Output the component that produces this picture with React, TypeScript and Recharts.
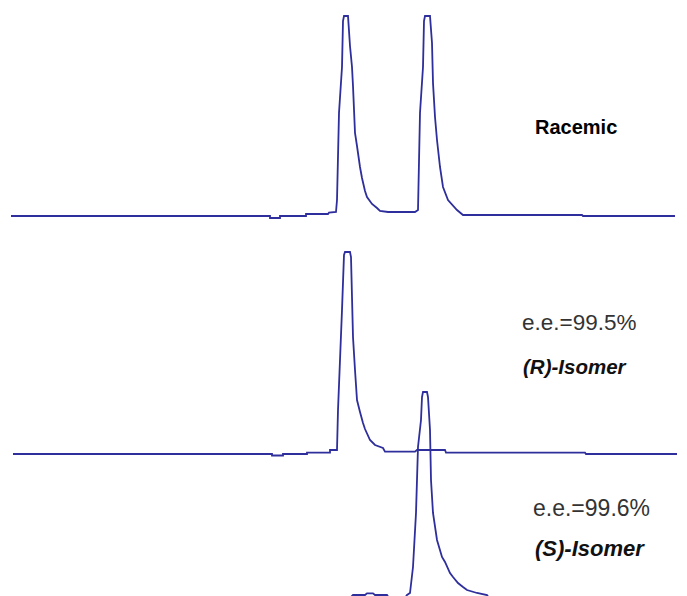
import React from "react";
import { LineChart, Line, XAxis, YAxis } from "recharts";

// Retention time (s) and detector signal (mV)
const RACEMIC: [number, number][] = [
  [0, 0], [259, 0], [259, -2], [269, -2], [269, 0], [295, 0], [295, 2], [317, 2], [318, 3.5], [325, 4],
  [326, 16], [328, 103], [331, 149], [332, 195], [333, 200], [337, 200], [339, 170], [341, 149], [342, 130],
  [344, 83], [346, 70], [349, 49], [351, 38], [354, 25], [356, 19], [361, 12], [366, 8], [369, 5], [377, 4],
  [404, 4], [407, 6], [409, 103], [412, 149], [413, 195], [414, 200], [419, 200], [421, 173], [422, 133],
  [424, 99], [426, 76], [429, 49], [432, 29], [437, 16], [446, 6], [452, 1], [571, 1], [572, 0], [664, 0],
];

const R_ISOMER: [number, number][] = [
  [2, 0], [261, 0], [261, -1.5], [272, -1.5], [272, 0], [296, 0], [296, 1.3], [319, 1.3], [319, 4], [326, 4],
  [327, 44], [331, 144], [333, 199], [334, 202], [339, 202], [340, 197], [341, 157], [342, 117], [344, 84],
  [346, 54], [349, 42], [352, 31], [354, 25], [359, 14], [364, 9], [372, 6], [374, 2.3], [404, 2.3], [406, 4],
  [434, 4], [435, 1.3], [574, 1.3], [575, 0], [666, 0],
];

const S_ISOMER: [number, number][] = [
  [2, 0], [339, 0], [342, 3], [354, 3], [356, 4.7], [362, 4.7], [364, 3], [376, 3], [378, 0], [394, 0],
  [396, 3], [399, 5], [402, 31], [405, 85], [407, 151], [410, 178], [411, 201], [412, 206], [416, 206],
  [417, 201], [419, 168], [420, 118], [422, 85], [426, 58], [431, 41], [434, 36], [439, 25], [442, 21],
  [447, 15], [452, 11], [456, 8], [466, 5], [476, 3], [478, 0], [666, 0],
];

// vertical stacking of the three traces (signal units)
const OFFSETS = [380, 142, -2];
const TRACES = [RACEMIC, R_ISOMER, S_ISOMER];
const LINE_COLOR = "#2e2e9c";

const toRows = (pts: [number, number][], off: number) => pts.map(([t, s]) => ({ t, v: s + off }));

export default function App() {
  const datasets = TRACES.map((tr, i) => toRows(tr, OFFSETS[i]));
  const font = "'Liberation Sans', Arial, sans-serif";
  return (
    <div style={{ position: "absolute", left: 0, top: 0, width: 687, height: 596, background: "#fff" }}>
      <LineChart width={687} height={596} margin={{ top: 0, right: 10, bottom: 0, left: 11 }}>
        <XAxis type="number" dataKey="t" domain={[0, 666]} hide allowDataOverflow />
        <YAxis type="number" domain={[0, 596]} hide allowDataOverflow />
        {datasets.map((d, i) => (
          <Line
            key={i}
            data={d}
            dataKey="v"
            type="linear"
            stroke={LINE_COLOR}
            strokeWidth={1.8}
            dot={false}
            activeDot={false}
            isAnimationActive={false}
          />
        ))}
      </LineChart>
      <svg width={687} height={596} style={{ position: "absolute", left: 0, top: 0, pointerEvents: "none" }}>
        <text x={535} y={134} fontFamily={font} fontSize={20} fontWeight="bold" fill="#000">Racemic</text>
        <text x={522} y={330} fontFamily={font} fontSize={22.5} fill="#333">e.e.=99.5%</text>
        <text x={523} y={374} fontFamily={font} fontSize={20.5} fontWeight="bold" fontStyle="italic" fill="#111">(R)-Isomer</text>
        <text x={533} y={516} fontFamily={font} fontSize={23} fill="#333">e.e.=99.6%</text>
        <text x={535} y={556} fontFamily={font} fontSize={22} fontWeight="bold" fontStyle="italic" fill="#111">(S)-Isomer</text>
      </svg>
    </div>
  );
}
